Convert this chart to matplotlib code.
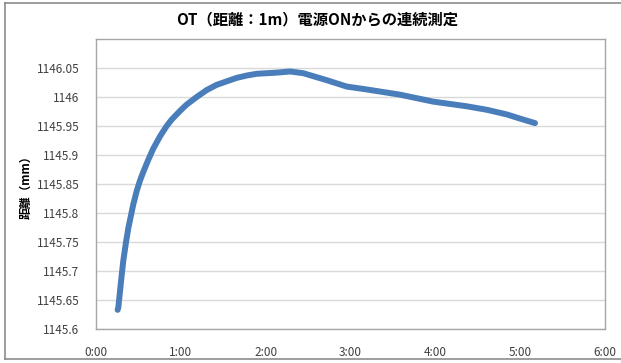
import matplotlib
matplotlib.use("Agg")
import matplotlib.pyplot as plt
from matplotlib.lines import Line2D
from matplotlib.ticker import FuncFormatter, MultipleLocator

plt.rcParams['font.family'] = ['Noto Sans CJK JP', 'DejaVu Sans']

# elapsed time since power ON (minutes)
time_min = [0.255, 0.263, 0.283, 0.303, 0.322, 0.354, 0.381, 0.421, 0.440, 0.480,
            0.519, 0.558, 0.617, 0.675, 0.754, 0.833, 0.892, 0.990, 1.069,
            1.187, 1.305, 1.423, 1.541, 1.659, 1.776, 1.894, 2.012, 2.130,
            2.287, 2.444, 2.720, 2.955, 3.191, 3.584, 3.976, 4.370, 4.606,
            4.841, 5.037, 5.175]
# measured distance (mm)
distance_mm = [1145.633, 1145.637, 1145.665, 1145.693, 1145.718, 1145.750, 1145.774,
               1145.802, 1145.815, 1145.838, 1145.856, 1145.871, 1145.892, 1145.911,
               1145.932, 1145.950, 1145.961, 1145.976, 1145.987, 1146.000, 1146.012,
               1146.021, 1146.027, 1146.033, 1146.037, 1146.040, 1146.041, 1146.042,
               1146.044, 1146.041, 1146.029, 1146.018, 1146.013, 1146.004, 1145.992,
               1145.984, 1145.978, 1145.970, 1145.961, 1145.955]

y_ticks = [1145.6, 1145.65, 1145.7, 1145.75, 1145.8, 1145.85, 1145.9, 1145.95,
           1146, 1146.05]
y_tick_labels = ['1145.6', '1145.65', '1145.7', '1145.75', '1145.8', '1145.85',
                 '1145.9', '1145.95', '1146', '1146.05']
title = 'OT（距離：1m）電源ONからの連続測定'
ylabel = '距離（mm）'

W, H = 621, 363
fig = plt.figure(figsize=(W / 100, H / 100), dpi=100)
fig.patch.set_facecolor('white')

# outer chart border (left, top, bottom)
bc = '#8c8c8c'
fig.add_artist(Line2D([4.5 / W, 4.5 / W], [1 - 2.5 / H, 1 - 358.5 / H], color=bc, lw=1.2))
fig.add_artist(Line2D([4.5 / W, 1.0], [1 - 2.5 / H, 1 - 2.5 / H], color=bc, lw=1.2))
fig.add_artist(Line2D([4.5 / W, 1.0], [1 - 358.5 / H, 1 - 358.5 / H], color=bc, lw=1.2))

ax = fig.add_axes([96 / W, 1 - 329 / H, (605 - 96) / W, (329 - 39) / H])
ax.set_xlim(0, 6)
ax.set_ylim(1145.6, 1146.1)
ax.set_yticks(y_ticks)
ax.set_yticklabels(y_tick_labels)
ax.xaxis.set_major_locator(MultipleLocator(1))
ax.xaxis.set_major_formatter(FuncFormatter(
    lambda m, _: f"{int(m)}:{int(round((m % 1) * 60)):02d}"))

ax.grid(axis='y', color='#d9d9d9', lw=1.0)
ax.set_axisbelow(True)
for s in ax.spines.values():
    s.set_color('#a6a6a6')
    s.set_linewidth(1.0)

ax.tick_params(axis='both', length=0, labelsize=8.5, colors='#404040')
ax.tick_params(axis='y', pad=12)
ax.tick_params(axis='x', pad=12)

ax.plot(time_min, distance_mm, color='#4a7ebb', lw=4.3,
        solid_capstyle='round', solid_joinstyle='round')

ax.set_ylabel(ylabel, fontsize=8.5, fontweight='bold', labelpad=3)
fig.text(317 / W, 1 - 19 / H, title, fontsize=11, fontweight='bold',
         ha='center', va='center')

fig.savefig('out.png', dpi=100)
